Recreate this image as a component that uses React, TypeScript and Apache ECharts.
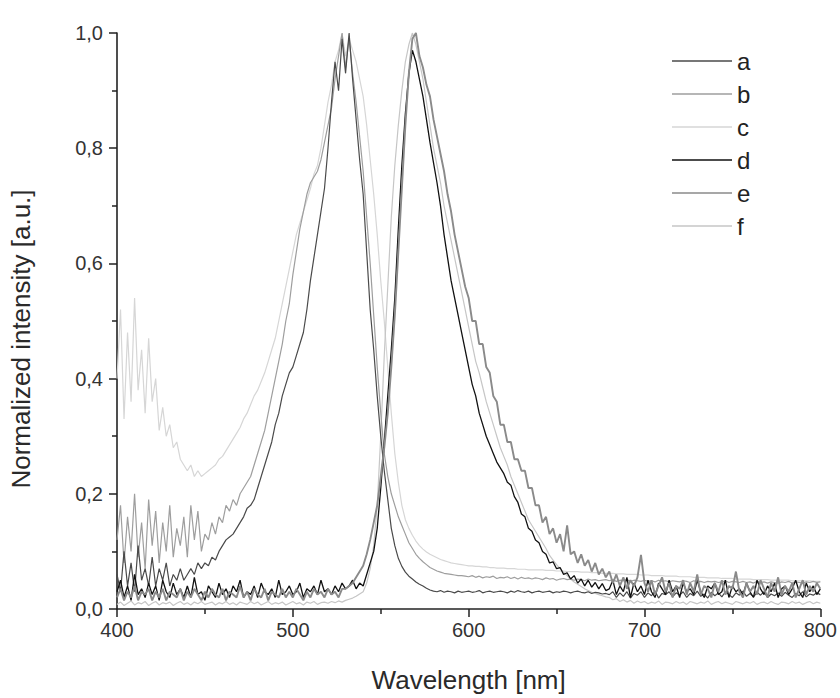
import React, { useEffect, useRef } from "react";
import * as echarts from "echarts";

// Wavelength grid (nm), 2 nm step
const wavelength = [
  400,402,404,406,408,410,412,414,416,418,420,422,424,426,428,430,432,434,436,438,
  440,442,444,446,448,450,452,454,456,458,460,462,464,466,468,470,472,474,476,478,
  480,482,484,486,488,490,492,494,496,498,500,502,504,506,508,510,512,514,516,518,
  520,522,524,526,528,530,532,534,536,538,540,542,544,546,548,550,552,554,556,558,
  560,562,564,566,568,570,572,574,576,578,580,582,584,586,588,590,592,594,596,598,
  600,602,604,606,608,610,612,614,616,618,620,622,624,626,628,630,632,634,636,638,
  640,642,644,646,648,650,652,654,656,658,660,662,664,666,668,670,672,674,676,678,
  680,682,684,686,688,690,692,694,696,698,700,702,704,706,708,710,712,714,716,718,
  720,722,724,726,728,730,732,734,736,738,740,742,744,746,748,750,752,754,756,758,
  760,762,764,766,768,770,772,774,776,778,780,782,784,786,788,790,792,794,796,798,
  800,
];

const seriesA = [
  0.06,0.03,0.10,0.04,0.08,0.03,0.11,0.05,0.07,0.04,
  0.09,0.04,0.07,0.05,0.08,0.04,0.06,0.05,0.07,0.05,
  0.06,0.07,0.06,0.08,0.07,0.08,0.075,0.09,0.085,0.10,
  0.11,0.12,0.125,0.13,0.14,0.15,0.16,0.175,0.18,0.19,
  0.21,0.23,0.25,0.27,0.29,0.32,0.34,0.37,0.39,0.41,
  0.42,0.44,0.46,0.48,0.52,0.57,0.61,0.65,0.69,0.73,
  0.80,0.88,0.95,0.90,0.99,0.93,1.0,0.92,0.85,0.78,
  0.72,0.62,0.52,0.45,0.37,0.30,0.24,0.19,0.14,0.11,
  0.088,0.074,0.064,0.057,0.052,0.047,0.043,0.040,0.036,0.033,
  0.031,0.030,0.032,0.029,0.031,0.030,0.028,0.031,0.029,0.030,
  0.031,0.029,0.030,0.032,0.028,0.030,0.031,0.029,0.030,0.031,
  0.030,0.028,0.031,0.029,0.032,0.030,0.029,0.031,0.028,0.030,
  0.031,0.029,0.030,0.031,0.028,0.030,0.029,0.031,0.030,0.028,
  0.030,0.031,0.029,0.028,0.030,0.027,0.029,0.028,0.026,0.027,
  0.025,0.030,0.020,0.028,0.022,0.030,0.019,0.027,0.024,0.030,
  0.020,0.028,0.023,0.031,0.019,0.027,0.025,0.030,0.021,0.028,
  0.024,0.030,0.020,0.027,0.023,0.031,0.022,0.026,0.019,0.029,
  0.023,0.028,0.021,0.030,0.025,0.020,0.028,0.024,0.031,0.022,
  0.027,0.021,0.029,0.024,0.030,0.020,0.026,0.023,0.028,0.022,
  0.029,0.024,0.020,0.027,0.023,0.030,0.021,0.026,0.024,0.028,
  0.025,
];

const seriesB = [
  0.12,0.18,0.08,0.16,0.10,0.20,0.09,0.15,0.07,0.19,
  0.11,0.17,0.08,0.15,0.10,0.18,0.09,0.14,0.11,0.16,
  0.09,0.18,0.12,0.17,0.10,0.13,0.12,0.15,0.13,0.16,
  0.15,0.18,0.17,0.19,0.18,0.20,0.21,0.22,0.23,0.25,
  0.27,0.29,0.31,0.34,0.37,0.40,0.43,0.46,0.50,0.53,
  0.58,0.62,0.66,0.69,0.72,0.74,0.75,0.76,0.78,0.81,
  0.84,0.87,0.92,0.96,1.0,0.94,0.99,0.93,0.88,0.82,
  0.76,0.68,0.60,0.51,0.42,0.34,0.27,0.23,0.20,0.18,
  0.16,0.145,0.13,0.115,0.105,0.095,0.088,0.082,0.077,0.072,
  0.069,0.066,0.064,0.062,0.061,0.060,0.059,0.058,0.058,0.057,
  0.056,0.058,0.055,0.057,0.054,0.056,0.055,0.057,0.053,0.055,
  0.054,0.056,0.053,0.055,0.052,0.055,0.053,0.054,0.052,0.054,
  0.053,0.051,0.054,0.052,0.053,0.050,0.052,0.053,0.051,0.052,
  0.050,0.052,0.051,0.049,0.052,0.050,0.051,0.049,0.050,0.051,
  0.049,0.051,0.048,0.050,0.049,0.051,0.048,0.050,0.049,0.048,
  0.050,0.048,0.049,0.047,0.050,0.048,0.049,0.047,0.049,0.048,
  0.047,0.049,0.048,0.046,0.049,0.047,0.048,0.046,0.048,0.047,
  0.048,0.046,0.047,0.049,0.046,0.048,0.047,0.046,0.048,0.046,
  0.047,0.045,0.048,0.046,0.047,0.045,0.047,0.046,0.045,0.047,
  0.046,0.048,0.045,0.047,0.046,0.045,0.047,0.046,0.048,0.046,
  0.047,
];

const seriesC = [
  0.40,0.52,0.33,0.48,0.36,0.54,0.38,0.45,0.34,0.47,
  0.36,0.40,0.31,0.35,0.30,0.32,0.28,0.29,0.26,0.25,
  0.24,0.25,0.23,0.24,0.23,0.235,0.24,0.245,0.25,0.26,
  0.265,0.275,0.285,0.295,0.305,0.315,0.33,0.34,0.355,0.37,
  0.38,0.395,0.41,0.43,0.45,0.47,0.50,0.53,0.56,0.59,
  0.62,0.65,0.67,0.69,0.71,0.73,0.755,0.77,0.80,0.84,
  0.88,0.91,0.95,0.97,1.0,0.96,0.99,0.97,0.95,0.92,
  0.89,0.84,0.78,0.72,0.65,0.57,0.50,0.42,0.34,0.27,
  0.22,0.18,0.155,0.14,0.128,0.118,0.11,0.104,0.099,0.095,
  0.092,0.089,0.086,0.084,0.082,0.080,0.079,0.078,0.077,0.076,
  0.075,0.075,0.074,0.074,0.073,0.073,0.072,0.072,0.071,0.071,
  0.071,0.070,0.070,0.070,0.069,0.069,0.069,0.068,0.068,0.068,
  0.068,0.068,0.067,0.067,0.067,0.066,0.066,0.066,0.065,0.065,
  0.065,0.065,0.064,0.064,0.064,0.063,0.063,0.063,0.062,0.062,
  0.062,0.062,0.061,0.061,0.061,0.060,0.060,0.060,0.060,0.059,
  0.059,0.059,0.058,0.058,0.058,0.058,0.057,0.057,0.057,0.057,
  0.056,0.056,0.056,0.056,0.055,0.055,0.055,0.055,0.054,0.054,
  0.054,0.054,0.053,0.053,0.053,0.053,0.052,0.052,0.052,0.052,
  0.052,0.051,0.051,0.051,0.051,0.051,0.050,0.050,0.050,0.050,
  0.050,0.050,0.049,0.049,0.049,0.049,0.049,0.049,0.048,0.048,
  0.048,
];

const seriesD = [
  0.03,0.05,0.02,0.04,0.015,0.06,0.025,0.035,0.02,0.045,
  0.025,0.04,0.015,0.05,0.03,0.02,0.045,0.025,0.035,0.02,
  0.04,0.02,0.055,0.025,0.03,0.015,0.04,0.03,0.02,0.045,
  0.025,0.035,0.02,0.04,0.03,0.05,0.02,0.03,0.025,0.04,
  0.02,0.045,0.03,0.025,0.035,0.02,0.05,0.025,0.03,0.04,
  0.025,0.03,0.045,0.02,0.035,0.03,0.04,0.025,0.05,0.03,
  0.035,0.025,0.04,0.03,0.045,0.035,0.04,0.05,0.035,0.045,
  0.04,0.06,0.08,0.10,0.14,0.21,0.29,0.37,0.45,0.54,
  0.66,0.77,0.86,0.93,0.97,0.95,0.92,0.89,0.85,0.81,
  0.775,0.74,0.70,0.65,0.61,0.57,0.54,0.51,0.48,0.45,
  0.42,0.39,0.37,0.34,0.32,0.30,0.285,0.27,0.255,0.245,
  0.235,0.22,0.215,0.195,0.185,0.165,0.16,0.14,0.135,0.12,
  0.115,0.10,0.095,0.08,0.082,0.07,0.072,0.06,0.063,0.052,
  0.058,0.045,0.052,0.04,0.05,0.038,0.046,0.035,0.044,0.032,
  0.035,0.05,0.025,0.04,0.03,0.055,0.02,0.045,0.03,0.04,
  0.025,0.05,0.03,0.02,0.045,0.035,0.025,0.05,0.03,0.04,
  0.02,0.045,0.03,0.035,0.025,0.05,0.03,0.02,0.04,0.035,
  0.045,0.025,0.03,0.05,0.02,0.04,0.03,0.035,0.025,0.045,
  0.03,0.02,0.05,0.035,0.025,0.04,0.03,0.045,0.02,0.035,
  0.04,0.025,0.035,0.05,0.03,0.02,0.045,0.03,0.04,0.025,
  0.035,
];

const seriesE = [
  0.02,0.035,0.015,0.03,0.02,0.04,0.015,0.03,0.025,0.035,
  0.015,0.03,0.02,0.035,0.015,0.03,0.025,0.02,0.035,0.015,
  0.03,0.02,0.035,0.025,0.015,0.03,0.02,0.035,0.025,0.02,
  0.035,0.015,0.03,0.025,0.02,0.04,0.02,0.03,0.015,0.035,
  0.025,0.02,0.035,0.015,0.03,0.025,0.02,0.035,0.02,0.03,
  0.02,0.035,0.025,0.015,0.03,0.02,0.035,0.025,0.03,0.02,
  0.035,0.025,0.03,0.02,0.035,0.035,0.04,0.045,0.055,0.065,
  0.075,0.095,0.12,0.15,0.18,0.23,0.28,0.34,0.42,0.51,
  0.62,0.73,0.84,0.93,0.99,1.0,0.96,0.94,0.91,0.89,
  0.85,0.82,0.79,0.76,0.72,0.69,0.65,0.62,0.59,0.56,
  0.54,0.50,0.50,0.46,0.46,0.42,0.41,0.37,0.36,0.32,
  0.32,0.29,0.29,0.26,0.26,0.24,0.24,0.21,0.21,0.18,
  0.18,0.15,0.16,0.13,0.14,0.115,0.13,0.10,0.145,0.095,
  0.10,0.08,0.095,0.075,0.085,0.065,0.08,0.06,0.07,0.055,
  0.065,0.045,0.06,0.04,0.055,0.035,0.05,0.04,0.055,0.094,
  0.045,0.03,0.05,0.025,0.04,0.055,0.03,0.045,0.02,0.04,
  0.035,0.05,0.025,0.045,0.03,0.06,0.025,0.04,0.035,0.02,
  0.045,0.03,0.05,0.025,0.04,0.035,0.065,0.03,0.02,0.045,
  0.03,0.04,0.025,0.05,0.035,0.02,0.045,0.03,0.055,0.025,
  0.04,0.03,0.045,0.02,0.035,0.05,0.025,0.04,0.03,0.045,
  0.035,
];

const seriesF = [
  0.008,0.012,0.006,0.010,0.014,0.007,0.011,0.009,0.013,0.006,
  0.010,0.013,0.007,0.011,0.009,0.012,0.006,0.010,0.013,0.008,
  0.011,0.007,0.012,0.009,0.013,0.008,0.010,0.012,0.007,0.011,
  0.009,0.013,0.008,0.011,0.007,0.012,0.010,0.008,0.013,0.009,
  0.012,0.007,0.010,0.013,0.008,0.011,0.009,0.012,0.007,0.010,
  0.013,0.009,0.011,0.007,0.012,0.010,0.013,0.008,0.011,0.012,
  0.010,0.013,0.011,0.014,0.012,0.015,0.017,0.019,0.022,0.026,
  0.03,0.045,0.07,0.11,0.18,0.30,0.44,0.56,0.68,0.77,
  0.84,0.90,0.95,0.98,1.0,0.98,0.95,0.92,0.88,0.84,
  0.80,0.77,0.74,0.70,0.67,0.64,0.61,0.58,0.55,0.52,
  0.49,0.46,0.43,0.41,0.385,0.36,0.34,0.32,0.30,0.28,
  0.265,0.25,0.23,0.215,0.20,0.185,0.17,0.155,0.145,0.135,
  0.125,0.115,0.105,0.093,0.085,0.077,0.07,0.064,0.058,0.052,
  0.047,0.043,0.039,0.035,0.032,0.029,0.027,0.025,0.023,0.021,
  0.020,0.016,0.018,0.013,0.016,0.012,0.015,0.010,0.014,0.011,
  0.013,0.009,0.012,0.010,0.014,0.008,0.012,0.011,0.009,0.013,
  0.010,0.012,0.008,0.013,0.011,0.009,0.012,0.010,0.014,0.008,
  0.011,0.013,0.009,0.012,0.010,0.008,0.013,0.011,0.009,0.012,
  0.010,0.013,0.008,0.011,0.012,0.009,0.013,0.010,0.008,0.012,
  0.011,0.009,0.013,0.010,0.012,0.008,0.011,0.013,0.009,0.012,
  0.010,
];

const seriesNames = ["a", "b", "c", "d", "e", "f"];
const seriesValues = [seriesA, seriesB, seriesC, seriesD, seriesE, seriesF];
const seriesColors = ["#4a4a4a", "#9e9e9e", "#d6d6d6", "#111111", "#8a8a8a", "#c6c6c6"];
const seriesWidths = [1.2, 1.2, 1.2, 1.3, 1.9, 1.2];
// drawing order (back to front)
const drawOrder = [2, 5, 1, 0, 3, 4];

const FONT = "Liberation Sans";

export default function App() {
  const ref = useRef<HTMLDivElement>(null);

  useEffect(() => {
    if (!ref.current) return;
    const chart = echarts.init(ref.current, undefined, { renderer: "svg" });

    const series = drawOrder.map((idx) => ({
      name: seriesNames[idx],
      type: "line",
      showSymbol: false,
      symbol: "none",
      data: wavelength.map((w, i) => [w, seriesValues[idx][i]]),
      lineStyle: { color: seriesColors[idx], width: seriesWidths[idx] },
      itemStyle: { color: seriesColors[idx] },
      emphasis: { disabled: true },
      z: 2,
    }));

    chart.setOption({
      animation: false,
      backgroundColor: "#ffffff",
      textStyle: { fontFamily: FONT },
      grid: { left: 110, right: 18, top: 33, bottom: 88, containLabel: false },
      legend: {
        data: seriesNames,
        orient: "vertical",
        left: 672,
        top: 49,
        padding: 0,
        icon: "rect",
        itemWidth: 60,
        itemHeight: 1.6,
        itemGap: 9,
        textStyle: { fontSize: 24, color: "#222", fontFamily: FONT },
      },
      xAxis: {
        type: "value",
        min: 400,
        max: 800,
        interval: 100,
        name: "Wavelength [nm]",
        nameLocation: "middle",
        nameGap: 58,
        nameTextStyle: { fontSize: 26, color: "#2a2a2a", fontFamily: FONT },
        axisLine: { lineStyle: { color: "#222", width: 1.6 } },
        axisTick: { show: true, inside: false, length: 8, lineStyle: { color: "#222", width: 1.5 } },
        minorTick: { show: true, splitNumber: 2, length: 5, lineStyle: { color: "#222", width: 1.5 } },
        splitLine: { show: false },
        axisLabel: { fontSize: 20, color: "#333", margin: 11, fontFamily: FONT },
      },
      yAxis: {
        type: "value",
        min: 0,
        max: 1,
        interval: 0.2,
        name: "Normalized intensity [a.u.]",
        nameLocation: "middle",
        nameGap: 83,
        nameTextStyle: { fontSize: 26, color: "#2a2a2a", fontFamily: FONT, padding: [0, 36, 0, 0] },
        axisLine: { show: true, lineStyle: { color: "#222", width: 1.6 } },
        axisTick: { show: true, inside: false, length: 8, lineStyle: { color: "#222", width: 1.5 } },
        minorTick: { show: true, splitNumber: 2, length: 5, lineStyle: { color: "#222", width: 1.5 } },
        splitLine: { show: false },
        axisLabel: {
          fontSize: 20,
          color: "#333",
          margin: 14,
          fontFamily: FONT,
          formatter: (v: number) => v.toFixed(1).replace(".", ","),
        },
      },
      series,
    });

    return () => chart.dispose();
  }, []);

  return (
    <div style={{ position: "fixed", left: 0, top: 0, width: 840, height: 698 }}>
      <div ref={ref} style={{ width: 840, height: 698 }} />
    </div>
  );
}
